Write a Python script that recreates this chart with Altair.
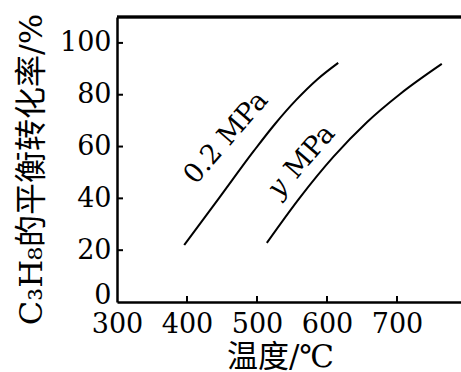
import altair as alt
import pandas as pd

# Data
x_02 = [396, 446, 496, 526, 556, 586, 616]
y_02 = [22.0, 40.2, 58.5, 68.8, 78.0, 85.9, 92.3]
x_ym = [514, 561, 609, 657, 704, 764]
y_ym = [22.8, 40.2, 56.0, 69.4, 80.2, 91.9]

x_ticks = [300, 400, 500, 600, 700]
y_ticks = [0, 20, 40, 60, 80, 100]

lab_text = ["0.2 MPa", "MPa"]
lab_x = [456, 576]
lab_y = [63.3, 58]
ylab_text = ["y"]
ylab_x = [530]
ylab_y = [44]

NUMF = "DejaVu Serif, Noto Sans CJK SC"
FONT = "DejaVu Serif, Noto Sans CJK SC"

df = pd.DataFrame(
    {"t": x_02 + x_ym, "c": y_02 + y_ym,
     "s": ["0.2"] * len(x_02) + ["y"] * len(x_ym)}
)
lab = pd.DataFrame({"t": lab_x, "c": lab_y, "txt": lab_text})
ylab = pd.DataFrame({"t": ylab_x, "c": ylab_y, "txt": ylab_text})
xt = pd.DataFrame({"t": x_ticks[1:]})
yt = pd.DataFrame({"c": y_ticks[1:]})

xs = alt.Scale(domain=[300, 791.4], nice=False, zero=False)
ys = alt.Scale(domain=[0, 110], nice=False)

xax = alt.Axis(values=x_ticks, ticks=False, grid=False, labelFlush=False,
               labelFontSize=27, labelFont=NUMF, labelColor="black", labelPadding=9,
               domainColor="black", domainWidth=2.5,
               title="温度/℃", titleFont=FONT, titleFontSize=31, titleFontWeight="normal",
               titleColor="black", titleX=163, titleY=40, titleBaseline="top", titleAlign="center")
yax = alt.Axis(values=y_ticks, ticks=False, grid=False,
               labelFontSize=27, labelFont=NUMF, labelColor="black", labelPadding=6,
               labelOffset=alt.condition("datum.value === 0", alt.value(-7), alt.value(0)),
               domainColor="black", domainWidth=2.5,
               title="C₃H₈的平衡转化率/%", titleFont=FONT, titleFontSize=32,
               titleFontWeight="normal", titleColor="black", titleAngle=270,
               titleX=-86, titleY=152, titleBaseline="middle", titleAlign="center")

lines = alt.Chart(df).mark_line(color="black", strokeWidth=2, interpolate="monotone").encode(
    x=alt.X("t:Q", scale=xs, axis=xax),
    y=alt.Y("c:Q", scale=ys, axis=yax),
    detail="s:N",
)

labels = alt.Chart(lab).mark_text(font=FONT, fontSize=27, angle=311, color="black").encode(
    x=alt.X("t:Q", scale=xs), y=alt.Y("c:Q", scale=ys), text="txt:N"
)
ylabels = alt.Chart(ylab).mark_text(font=FONT, fontSize=27, angle=311, color="black",
                                    fontStyle="italic").encode(
    x=alt.X("t:Q", scale=xs), y=alt.Y("c:Q", scale=ys), text="txt:N"
)

xticks = alt.Chart(xt).mark_rule(color="black", strokeWidth=2).encode(
    x=alt.X("t:Q", scale=xs), y=alt.value(285), y2=alt.value(279)
)
yticks = alt.Chart(yt).mark_rule(color="black", strokeWidth=2).encode(
    y=alt.Y("c:Q", scale=ys), x=alt.value(0), x2=alt.value(6)
)
top = alt.Chart(xt).mark_rule(color="black", strokeWidth=2.5).encode(y=alt.value(0))

chart = alt.layer(lines, labels, ylabels, xticks, yticks, top).properties(
    width=344, height=285,
    autosize=alt.AutoSizeParams(type="none"),
    padding={"left": 117, "top": 17, "right": 0, "bottom": 70},
).configure_view(stroke=None).configure(background="white")

chart.save("out.html", embed_options={"renderer": "svg", "actions": False})
